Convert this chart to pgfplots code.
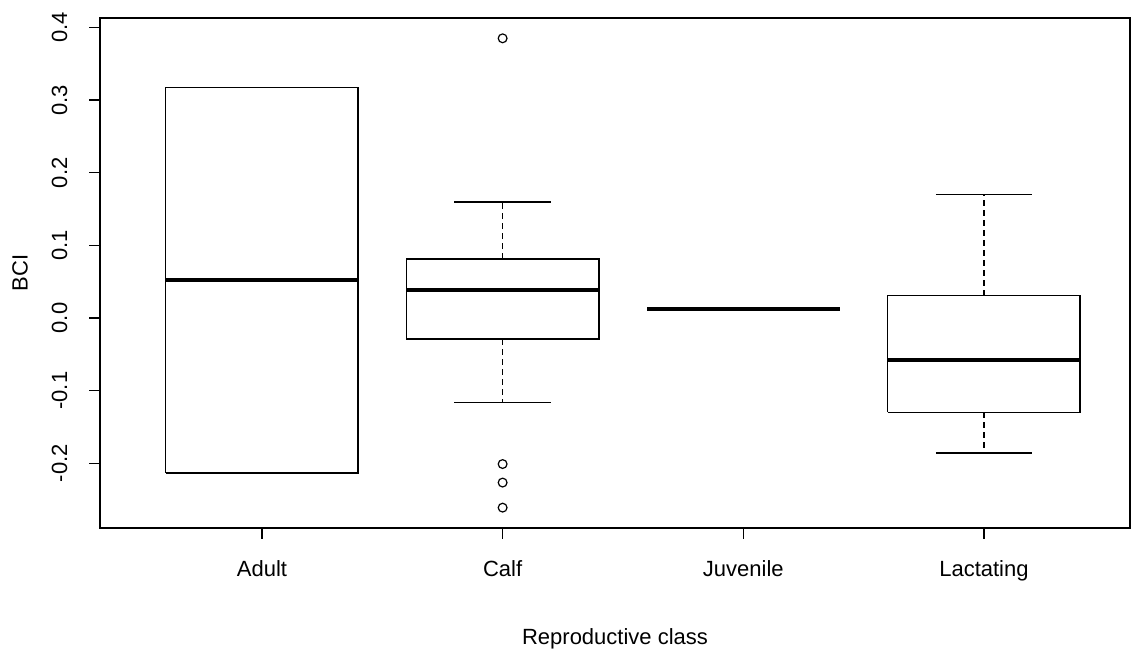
\documentclass[border=0pt]{standalone}
\usepackage{fontspec}
\setmainfont{Liberation Sans}
\usepackage{pgfplots}
\pgfplotsset{compat=1.18}

\begin{document}
\fontsize{11}{13}\selectfont
\begin{tikzpicture}
\begin{axis}[
  scale only axis,
  width=515pt, height=255pt,
  xmin=0.327, xmax=4.607,
  ymin=-0.289, ymax=0.413,
  axis line style={line width=0.75pt},
  tick style={line width=0.75pt, black},
  major tick length=5.5pt,
  tick align=outside,
  xtick={1,2,3,4},
  xticklabels={Adult,Calf,Juvenile,Lactating},
  ytick={-0.2,-0.1,0,0.1,0.2,0.3,0.4},
  yticklabels={-0.2,-0.1,0.0,0.1,0.2,0.3,0.4},
  xtick pos=bottom, ytick pos=left,
  xticklabel style={yshift=-7pt},
  % rotated frame: +y points to the page's left
  yticklabel style={rotate=90, anchor=south, yshift=7pt},
  xlabel={Reproductive class},
  ylabel={BCI},
  xlabel style={at={(axis description cs:0.5,-0.218)}, anchor=center},
  ylabel style={at={(axis description cs:-0.0777,0.5)}, anchor=center},
  unbounded coords=jump,
  box/.style={black, line width=0.75pt, mark=none},
  med/.style={black, line width=2.2pt, mark=none},
  whisk/.style={black, line width=0.75pt, mark=none, dash pattern=on 3pt off 2pt},
]
% ---- boxes (lower quartile / upper quartile), half width 0.4
\addplot[box] coordinates {(0.6,-0.213) (1.4,-0.213) (1.4,0.317) (0.6,0.317) (0.6,-0.213)};
\addplot[box] coordinates {(1.6,-0.029) (2.4,-0.029) (2.4,0.081) (1.6,0.081) (1.6,-0.029)};
\addplot[box] coordinates {(3.6,-0.130) (4.4,-0.130) (4.4,0.0307) (3.6,0.0307) (3.6,-0.130)};
% ---- medians
\addplot[med] coordinates {(0.6,0.052) (1.4,0.052)};
\addplot[med] coordinates {(1.6,0.0385) (2.4,0.0385)};
\addplot[med] coordinates {(2.6,0.0128) (3.4,0.0128)};
\addplot[med] coordinates {(3.6,-0.058) (4.4,-0.058)};
% ---- whiskers (dashed)
\addplot[whisk] coordinates {(2,0.081) (2,0.160) (2,nan) (2,-0.029) (2,-0.1165)};
\addplot[whisk] coordinates {(4,0.0307) (4,0.170) (4,nan) (4,-0.130) (4,-0.186)};
% ---- whisker caps, half width 0.2
\addplot[box] coordinates {(1.8,0.160) (2.2,0.160) (nan,nan) (1.8,-0.1165) (2.2,-0.1165)};
\addplot[box] coordinates {(3.8,0.170) (4.2,0.170) (nan,nan) (3.8,-0.186) (4.2,-0.186)};
% ---- outliers (Calf)
\addplot[only marks, mark=o, mark size=2.2pt, mark options={black, line width=0.6pt}]
  coordinates {(2,0.385) (2,-0.201) (2,-0.2265) (2,-0.261)};
\coordinate (bl) at (rel axis cs:-0.0971,-0.2451);
\coordinate (tr) at (rel axis cs:1.00777,1.0353);
\end{axis}
\pgfresetboundingbox
\path[use as bounding box] (bl) rectangle (tr);
\end{tikzpicture}
\end{document}
